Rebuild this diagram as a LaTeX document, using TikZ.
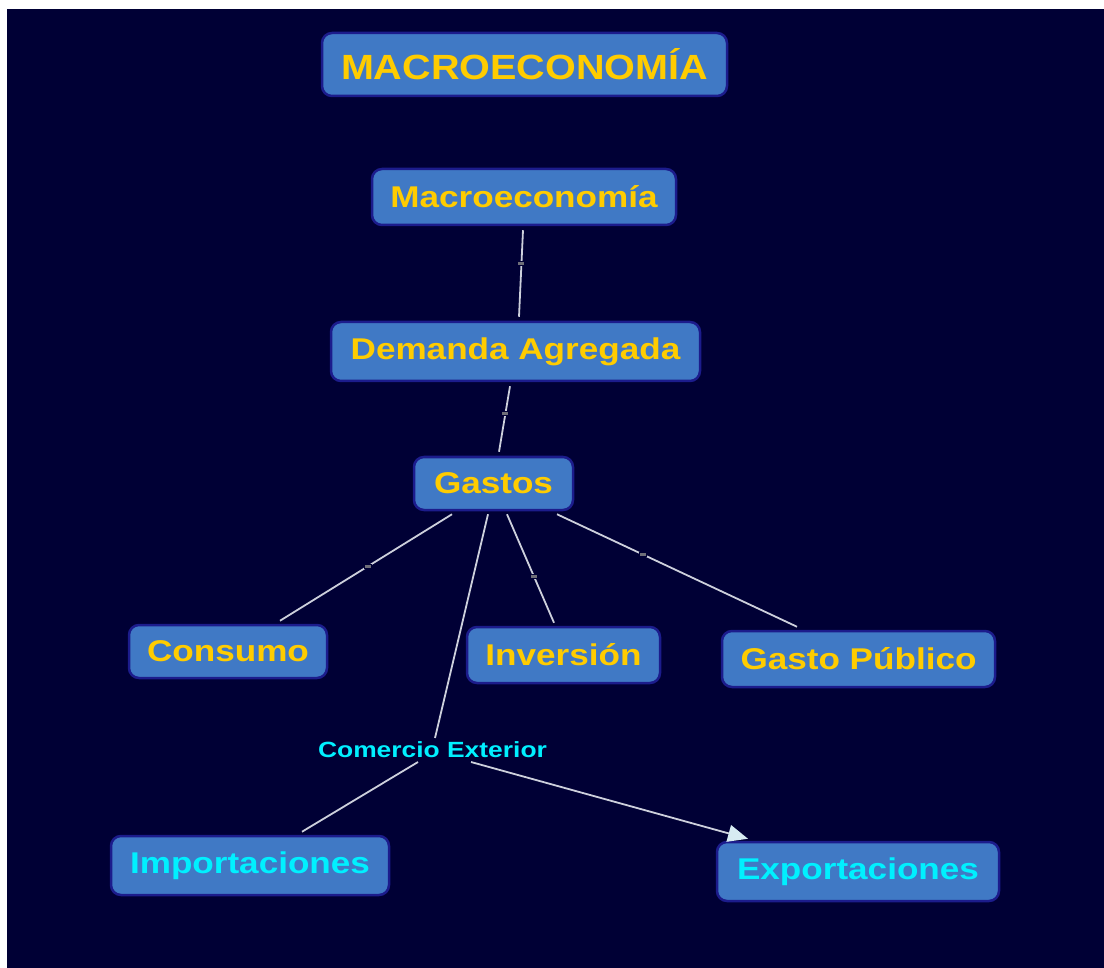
\documentclass[tikz,border=0pt]{standalone}
\usepackage{fontspec}
\setmainfont{Liberation Sans}
\usetikzlibrary{arrows.meta,calc}
\definecolor{bg}{RGB}{0,0,53}
\definecolor{boxfill}{RGB}{64,121,197}
\definecolor{boxedge}{RGB}{28,28,140}
\definecolor{gold}{RGB}{255,204,0}
\definecolor{aqua}{RGB}{0,240,255}
\definecolor{wirec}{RGB}{205,208,220}
\definecolor{tipc}{RGB}{215,235,242}
\definecolor{markc}{RGB}{110,110,120}
\newcommand{\wtxt}[1]{\scalebox{1.17}[1]{#1}}
\begin{document}
\begin{tikzpicture}[x=1pt,y=-1pt,
  box/.style={rectangle, rounded corners=10pt, fill=boxfill, draw=boxedge, line width=2.5pt, inner sep=0pt, font=\bfseries\fontsize{30}{36}\selectfont},
  ybox/.style={box, text=gold},
  cbox/.style={box, text=aqua},
  wire/.style={draw=wirec, line width=1.8pt},
  tick/.style={fill=markc, draw=bg, line width=1pt, minimum width=7pt, minimum height=4pt, inner sep=0pt}
]
\fill[white] (0,0) rectangle (1104,968);
\fill[bg] (7,9) rectangle (1104,968);
\useasboundingbox (0,0) rectangle (1104,968);

\node[ybox, minimum width=405pt, minimum height=63pt, font=\bfseries\fontsize{35}{40}\selectfont] (title) at (524.5,64.5) {\scalebox{1.13}[1]{MACROECONOMÍA}};
\node[ybox, minimum width=304pt, minimum height=56pt] (macro) at (524,197) {\wtxt{Macroeconomía}};
\node[ybox, minimum width=369pt, minimum height=59pt] (dem) at (515.5,351.5) {\wtxt{Demanda Agregada}};
\node[ybox, minimum width=159pt, minimum height=53pt] (gastos) at (493.5,483.5) {\wtxt{Gastos}};
\node[ybox, minimum width=198pt, minimum height=53pt] (consumo) at (228,651.5) {\wtxt{Consumo}};
\node[ybox, minimum width=193pt, minimum height=56pt] (inv) at (563.5,655) {\wtxt{Inversión}};
\node[ybox, minimum width=273pt, minimum height=56pt] (gp) at (858.5,659) {\wtxt{Gasto Público}};
\node[text=aqua, font=\bfseries\fontsize{22}{26}\selectfont, inner sep=1pt] (ce) at (432.5,750) {\scalebox{1.2}[1]{Comercio Exterior}};
\node[cbox, minimum width=278pt, minimum height=59pt] (imp) at (250,865.5) {\wtxt{Importaciones}};
\node[cbox, minimum width=282pt, minimum height=59pt] (exp) at (858,871.5) {\wtxt{Exportaciones}};

\draw[wire] ([xshift=-1pt,yshift=-4pt]macro.south) -- node[tick, pos=0.39]{} ([xshift=3.5pt,yshift=4pt]dem.north);
\draw[wire] ([xshift=-5.5pt,yshift=-4pt]dem.south) -- node[tick, pos=0.41]{} ([xshift=5.5pt,yshift=4pt]gastos.north);
\draw[wire] ([xshift=-41.5pt,yshift=-3pt]gastos.south) -- node[tick, pos=0.49]{} ([xshift=52pt,yshift=3pt]consumo.north);
\draw[wire] ([xshift=13.5pt,yshift=-3pt]gastos.south) -- node[tick, pos=0.57]{} ([xshift=-9.5pt,yshift=3pt]inv.north);
\draw[wire] ([xshift=63.5pt,yshift=-3pt]gastos.south) -- node[tick, pos=0.36]{} ([xshift=-61.5pt,yshift=3pt]gp.north);
\draw[wire] ([xshift=-5.5pt,yshift=-3pt]gastos.south) -- ([xshift=2.5pt,yshift=12pt]ce.center);
\draw[wire] ([xshift=-14.5pt,yshift=-12pt]ce.center) -- ([xshift=52pt,yshift=3pt]imp.north);
\draw[wire, -{Triangle[length=20pt,width=17pt,color=tipc]}] ([xshift=38.5pt,yshift=-12pt]ce.center) -- ([xshift=-110pt,yshift=2pt]exp.north);
\end{tikzpicture}
\end{document}
